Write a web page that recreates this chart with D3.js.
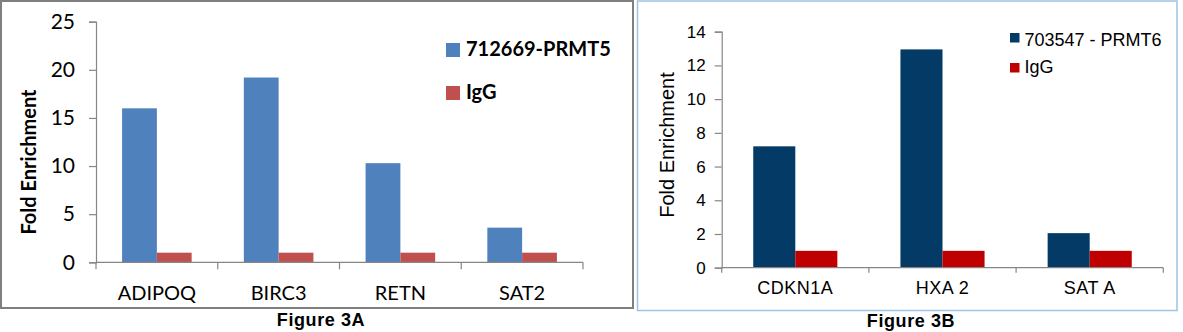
<!DOCTYPE html>
<html><head><meta charset="utf-8">
<script src="https://cdn.jsdelivr.net/npm/d3@7"></script>
<style>html,body{margin:0;padding:0;background:#fff;}svg{display:block;}</style>
</head><body>
<svg id="chart" width="1183" height="332"></svg>
<script>
// ---- Data: Figure 3A ----
const catsA = ["ADIPOQ", "BIRC3", "RETN", "SAT2"];
const seriesA = ["712669-PRMT5", "IgG"];
const prmt5Values = [16.0, 19.2, 10.3, 3.6];
const igGValuesA = [1.0, 1.0, 1.0, 1.0];
const ticksA = [0, 5, 10, 15, 20, 25];

// ---- Data: Figure 3B ----
const catsB = ["CDKN1A", "HXA 2", "SAT A"];
const seriesB = ["703547 - PRMT6", "IgG"];
const prmt6Values = [7.2, 12.95, 2.05];
const igGValuesB = [1.0, 1.0, 1.0];
const ticksB = [0, 2, 4, 6, 8, 10, 12, 14];

const svg = d3.select("#chart");
svg.append("rect").attr("width", 1183).attr("height", 332).attr("fill", "#fff");

function panel(cfg) {
  const g = svg.append("g");
  g.append("rect").attr("x", cfg.box[0]).attr("y", cfg.box[1]).attr("width", cfg.box[2]).attr("height", cfg.box[3])
    .attr("fill", "#fff").attr("stroke", cfg.boxColor).attr("stroke-width", cfg.boxWidth);

  const y = d3.scaleLinear().domain([0, cfg.ymax]).range([cfg.y0, cfg.y1]);
  const x0 = d3.scaleBand().domain(cfg.cats).range([cfg.x0, cfg.x1]).padding(0);
  const x1 = d3.scaleBand().domain(cfg.series).range([0, x0.bandwidth()]).paddingOuter(0.75).paddingInner(0);

  const rows = cfg.cats.map((c, i) => ({cat: c, vals: cfg.values.map(v => v[i])}));
  const grp = g.selectAll("g.cat").data(rows).join("g").attr("transform", d => `translate(${x0(d.cat)},0)`);
  grp.selectAll("rect").data(d => d.vals.map((v, j) => ({s: cfg.series[j], v, j})))
    .join("rect")
    .attr("x", d => x1(d.s)).attr("width", x1.bandwidth())
    .attr("y", d => y(d.v)).attr("height", d => y(0) - y(d.v))
    .attr("fill", d => cfg.colors[d.j]);

  // y axis
  const yAxis = d3.axisLeft(y).tickValues(cfg.ticks).tickSize(cfg.tickLen).tickPadding(cfg.tickPad);
  const ya = g.append("g").attr("transform", `translate(${cfg.x0},0)`).call(yAxis);
  ya.select(".domain").attr("stroke", "#868686").attr("stroke-width", 1.2);
  ya.selectAll(".tick line").attr("stroke", "#868686").attr("stroke-width", 1.2);
  ya.selectAll(".tick text").attr("font-family", cfg.font).attr("font-size", cfg.tickFont).attr("fill", "#000");

  // x axis (labels centred, ticks at category boundaries)
  const xAxis = d3.axisBottom(x0).tickSize(0).tickPadding(cfg.xLabPad);
  const xa = g.append("g").attr("transform", `translate(0,${cfg.y0})`).call(xAxis);
  xa.select(".domain").remove();
  xa.selectAll(".tick text").attr("font-family", cfg.font).attr("font-size", cfg.xFont).attr("fill", "#000")
    .attr("font-weight", cfg.xWeight).attr("letter-spacing", cfg.xSpacing);
  g.append("line").attr("x1", cfg.x0).attr("x2", cfg.x1).attr("y1", y(0)).attr("y2", y(0))
    .attr("stroke", "#868686").attr("stroke-width", 1.2);
  const bounds = cfg.cats.map(c => x0(c)).concat([cfg.x1]);
  g.selectAll("line.bt").data(bounds).join("line").attr("class", "bt")
    .attr("x1", d => d).attr("x2", d => d).attr("y1", y(0)).attr("y2", y(0) + cfg.xTickLen)
    .attr("stroke", "#868686").attr("stroke-width", 1.2);

  // y label
  g.append("text").attr("transform", `translate(${cfg.yLab[0]},${cfg.yLab[1]}) rotate(-90)`)
    .attr("text-anchor", "middle").attr("dominant-baseline", "central")
    .attr("font-family", cfg.font).attr("font-size", cfg.yLabFont).attr("font-weight", cfg.yLabWeight)
    .text("Fold Enrichment");

  // legend
  cfg.series.forEach((s, i) => {
    const L = cfg.legend[i];
    g.append("rect").attr("x", L[0]).attr("y", L[1]).attr("width", cfg.legSq).attr("height", cfg.legSq).attr("fill", cfg.colors[i]);
    g.append("text").attr("x", L[0] + cfg.legSq + cfg.legGap).attr("y", L[2])
      .attr("font-family", cfg.font).attr("font-size", cfg.legFont).attr("font-weight", cfg.legWeight).text(s);
  });

  // caption
  g.append("text").attr("x", cfg.cap[0]).attr("y", cfg.cap[1]).attr("text-anchor", "middle")
    .attr("font-family", "Liberation Sans, Arial, sans-serif").attr("font-size", 18).attr("font-weight", "bold")
    .attr("letter-spacing", 0.6)
    .text(cfg.capText);
}

panel({
  box: [1, 1, 632, 307], boxColor: "#7f7f7f", boxWidth: 2,
  cats: catsA, series: seriesA, values: [prmt5Values, igGValuesA], colors: ["#4f81bd", "#c0504d"],
  ymax: 25, ticks: ticksA, y0: 262.3, y1: 21.7, x0: 96, x1: 583,
  font: "Lato, Carlito, Calibri, sans-serif", tickFont: 21, tickLen: 7, tickPad: 14,
  xFont: 20, xWeight: "normal", xSpacing: 0, xLabPad: 24, xTickLen: 7,
  yLab: [28, 162], yLabFont: 20, yLabWeight: "bold",
  legend: [[446, 43, 56], [446, 86, 99]], legSq: 14, legGap: 6, legFont: 20, legWeight: "bold",
  cap: [321, 326], capText: "Figure 3A"
});

panel({
  box: [637.5, 1, 539.5, 309.5], boxColor: "#9dc3e6", boxWidth: 1.5,
  cats: catsB, series: seriesB, values: [prmt6Values, igGValuesB], colors: ["#033a66", "#c00000"],
  ymax: 14, ticks: ticksB, y0: 267.7, y1: 31.7, x0: 721.7, x1: 1163.3,
  font: "Liberation Sans, Arial, sans-serif", tickFont: 17, tickLen: 7, tickPad: 9,
  xFont: 18, xWeight: "normal", xSpacing: 0.5, xLabPad: 14, xTickLen: 5,
  yLab: [667, 145], yLabFont: 20, yLabWeight: "normal",
  legend: [[1010, 33, 46], [1010, 63, 73]], legSq: 9.5, legGap: 5, legFont: 18, legWeight: "normal",
  cap: [911, 327], capText: "Figure 3B"
});
</script>
</body></html>
